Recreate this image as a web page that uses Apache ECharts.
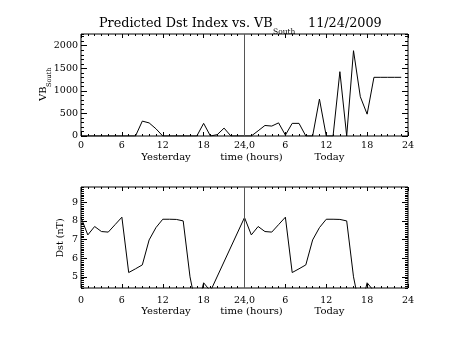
<!DOCTYPE html>
<html>
<head>
<meta charset="utf-8">
<script src="https://cdn.jsdelivr.net/npm/echarts@6/dist/echarts.min.js"></script>
<style>
html,body{margin:0;padding:0;background:#fff;}
#chart{width:453px;height:340px;}
</style>
</head>
<body>
<div id="chart"></div>
<script>
// ---- data ----
var xTickLabels = ['0','6','12','18','24,0','6','12','18','24'];
var vbHours = [0,1,2,3,4,5,6,7,8,9,10,11,12,13,14,15,16,17,18,19,20,21,22,23,
               24,25,26,27,28,29,30,31,32,33,34,35,36,37,38,39,40,41,42,43,44,45,46,47];
var vbValues = [0,0,0,0,0,0,0,0,0,330,290,160,0,0,0,0,0,0,280,0,30,175,0,0,
                0,0,115,233,220,291,20,280,280,0,0,818,0,0,1425,0,1890,870,484,1300,1300,1300,1300,1300];
var vbTickLabels = [0,500,1000,1500,2000];
var dstHours = [0,1,2,3,4,5,6,7,8,9,10,11,12,13,14,15,16,17,18,19,
                24,25,26,27,28,29,30,31,32,33,34,35,36,37,38,39,40,41,42,43];
var dstValues = [8.18,7.25,7.7,7.43,7.4,7.8,8.2,5.23,5.43,5.64,6.98,7.64,8.09,8.09,8.08,8.0,5.0,3.2,4.68,4.23,
                 8.18,7.25,7.7,7.43,7.4,7.8,8.2,5.23,5.43,5.64,6.98,7.64,8.09,8.09,8.08,8.0,5.0,3.2,4.68,4.23];
var dstTickLabels = [5,6,7,8,9];

var FONT = 'DejaVu Serif';
var INK = '#000';

function xAx(grid, pos, labels, margin) {
  return {
    type: 'value', gridIndex: grid, position: pos, min: 0, max: 48, interval: 6,
    axisLine: {show: false, onZero: false}, splitLine: {show: false},
    axisTick: {show: true, inside: true, length: 4, lineStyle: {color: INK, width: 1}},
    minorTick: {show: true, splitNumber: 6, length: 2, lineStyle: {color: INK, width: 1}},
    axisLabel: {show: labels, margin: margin, color: INK, fontFamily: FONT, fontSize: 9.5,
      formatter: function (v) { return xTickLabels[Math.round(v / 6)]; }}
  };
}
function yMajor(grid, pos, mn, mx, ticks, labels) {
  return {
    type: 'value', gridIndex: grid, position: pos, min: mn, max: mx,
    axisLine: {show: false, onZero: false}, splitLine: {show: false},
    axisTick: {show: true, inside: true, length: 6, customValues: ticks, lineStyle: {color: INK, width: 1}},
    axisLabel: {show: labels, margin: 3, color: INK, fontFamily: FONT, fontSize: 9.5,
      customValues: ticks, formatter: function (v) { return String(v); }}
  };
}
function yMinor(grid, pos, mn, mx, step) {
  return {
    type: 'value', gridIndex: grid, position: pos, min: mn, max: mx, interval: step,
    axisLine: {show: false, onZero: false}, splitLine: {show: false},
    axisTick: {show: true, inside: true, length: 3, lineStyle: {color: INK, width: 1}},
    axisLabel: {show: false}
  };
}

var chart = echarts.init(document.getElementById('chart'), null, {renderer: 'canvas'});
var mark = {
  silent: true, symbol: 'none', label: {show: false},
  lineStyle: {color: '#555', width: 1, type: 'solid'},
  data: [{xAxis: 24}]
};
chart.setOption({
  animation: false,
  backgroundColor: '#fff',
  grid: [
    {left: 81, top: 34, width: 327, height: 102, show: true, borderColor: INK, borderWidth: 1, backgroundColor: 'transparent'},
    {left: 81, top: 187, width: 327, height: 101, show: true, borderColor: INK, borderWidth: 1, backgroundColor: 'transparent'}
  ],
  xAxis: [xAx(0, 'bottom', true, 5), xAx(0, 'top', false, 5), xAx(1, 'bottom', true, 8), xAx(1, 'top', false, 5)],
  yAxis: [
    yMajor(0, 'left', 0, 2260, vbTickLabels, true),
    yMinor(0, 'left', 0, 2260, 100),
    yMajor(0, 'right', 0, 2260, vbTickLabels, false),
    yMinor(0, 'right', 0, 2260, 100),
    yMajor(1, 'left', 4.4, 9.82, dstTickLabels, true),
    yMinor(1, 'left', 4.4, 9.82, 0.1),
    yMajor(1, 'right', 4.4, 9.82, dstTickLabels, false),
    yMinor(1, 'right', 4.4, 9.82, 0.1)
  ],
  series: [
    {type: 'line', xAxisIndex: 0, yAxisIndex: 0, symbol: 'none', clip: true,
     lineStyle: {color: INK, width: 1},
     data: vbHours.map(function (h, i) { return [h, vbValues[i]]; }),
     markLine: mark},
    {type: 'line', xAxisIndex: 2, yAxisIndex: 4, symbol: 'none', clip: true,
     lineStyle: {color: INK, width: 1},
     data: dstHours.map(function (h, i) { return [h, dstValues[i]]; }),
     markLine: mark}
  ],
  graphic: [
    {type: 'text', x: 99, y: 24, style: {text: 'Predicted Dst Index vs. VB', fill: INK, font: '12.8px "DejaVu Serif"', textVerticalAlign: 'middle'}},
    {type: 'text', x: 273, y: 32.5, style: {text: 'South', fill: INK, font: '7.5px "DejaVu Serif"', textVerticalAlign: 'middle'}},
    {type: 'text', x: 308, y: 24, style: {text: '11/24/2009', fill: INK, font: '12.8px "DejaVu Serif"', textVerticalAlign: 'middle'}},
    {type: 'group', x: 43, y: 101, rotation: Math.PI / 2, children: [
      {type: 'text', x: 0, y: 0, style: {text: 'VB', fill: INK, font: '10px "DejaVu Serif"', textVerticalAlign: 'middle', textAlign: 'left'}},
      {type: 'text', x: 14, y: 6, style: {text: 'South', fill: INK, font: '6.5px "DejaVu Serif"', textVerticalAlign: 'middle', textAlign: 'left'}}
    ]},
    {type: 'text', x: 61, y: 238, rotation: Math.PI / 2, style: {text: 'Dst (nT)', fill: INK, font: '9.5px "DejaVu Serif"', textAlign: 'center', textVerticalAlign: 'middle'}},
    {type: 'text', x: 166, y: 157.5, style: {text: 'Yesterday', fill: INK, font: '10px "DejaVu Serif"', textAlign: 'center', textVerticalAlign: 'middle'}},
    {type: 'text', x: 251.5, y: 157.5, style: {text: 'time (hours)', fill: INK, font: '10px "DejaVu Serif"', textAlign: 'center', textVerticalAlign: 'middle'}},
    {type: 'text', x: 329.5, y: 157.5, style: {text: 'Today', fill: INK, font: '10px "DejaVu Serif"', textAlign: 'center', textVerticalAlign: 'middle'}},
    {type: 'text', x: 166, y: 311.7, style: {text: 'Yesterday', fill: INK, font: '10px "DejaVu Serif"', textAlign: 'center', textVerticalAlign: 'middle'}},
    {type: 'text', x: 251.5, y: 311.7, style: {text: 'time (hours)', fill: INK, font: '10px "DejaVu Serif"', textAlign: 'center', textVerticalAlign: 'middle'}},
    {type: 'text', x: 329.5, y: 311.7, style: {text: 'Today', fill: INK, font: '10px "DejaVu Serif"', textAlign: 'center', textVerticalAlign: 'middle'}}
  ]
});
</script>
</body>
</html>
